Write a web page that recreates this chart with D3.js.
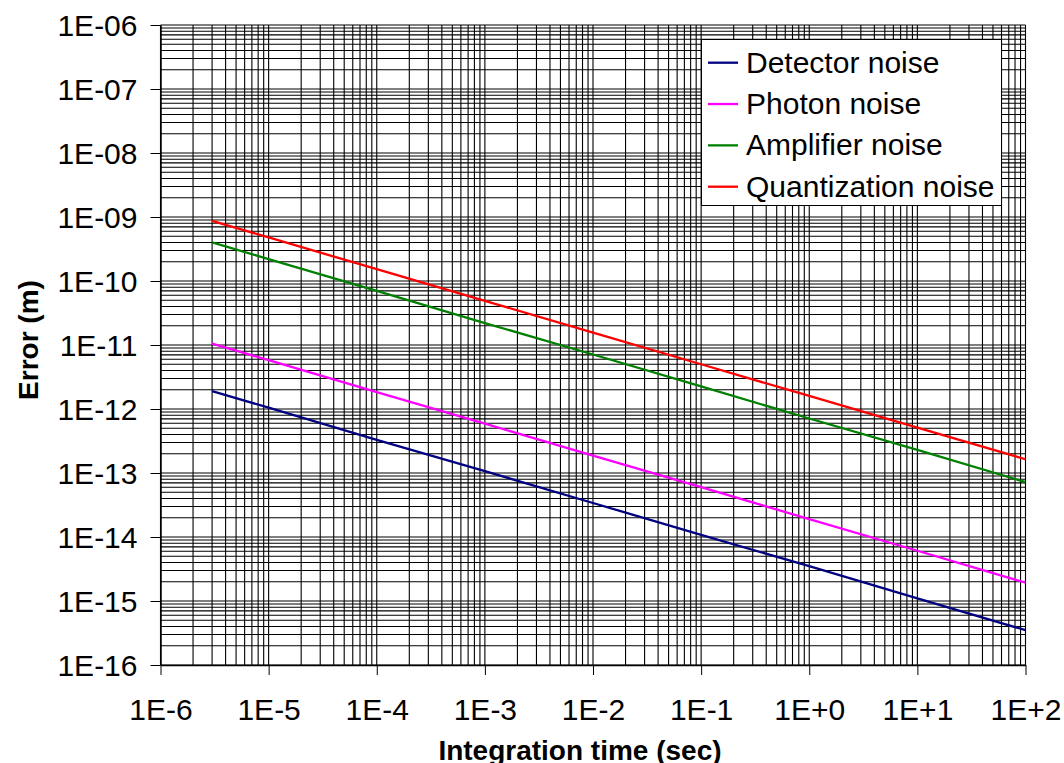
<!DOCTYPE html>
<html>
<head>
<meta charset="utf-8">
<script src="https://cdn.jsdelivr.net/npm/d3@7"></script>
<style>
  html, body { margin: 0; padding: 0; background: #fff; }
  svg { display: block; font-family: "Liberation Sans", Arial, sans-serif; }
</style>
</head>
<body>
<svg id="chart" width="1064" height="763"></svg>
<script>
// ---- data ----
const times = [3e-6, 1e-5, 1e-4, 1e-3, 1e-2, 1e-1, 1, 10, 100];
const detectorNoise     = [1.9e-12, 1.05e-12, 3.3e-13, 1.07e-13, 3.4e-14, 1.08e-14, 3.5e-15, 1.1e-15, 3.5e-16];
const photonNoise       = [1.05e-11, 5.8e-12, 1.84e-12, 5.9e-13, 1.87e-13, 6.0e-14, 1.9e-14, 6.1e-15, 1.93e-15];
const amplifierNoise    = [4.0e-10, 2.2e-10, 7.0e-11, 2.2e-11, 7.1e-12, 2.25e-12, 7.1e-13, 2.3e-13, 7.2e-14];
const quantizationNoise = [8.7e-10, 4.8e-10, 1.53e-10, 4.9e-11, 1.56e-11, 5.0e-12, 1.6e-12, 5.1e-13, 1.64e-13];

const seriesNames  = ["Detector noise", "Photon noise", "Amplifier noise", "Quantization noise"];
const seriesColors = ["#000080", "#ff00ff", "#008000", "#ff0000"];
const seriesValues = [detectorNoise, photonNoise, amplifierNoise, quantizationNoise];

const xTickValues = [1e-6, 1e-5, 1e-4, 1e-3, 1e-2, 1e-1, 1, 10, 100];
const xTickLabels = ["1E-6", "1E-5", "1E-4", "1E-3", "1E-2", "1E-1", "1E+0", "1E+1", "1E+2"];
const yTickValues = [1e-16, 1e-15, 1e-14, 1e-13, 1e-12, 1e-11, 1e-10, 1e-9, 1e-8, 1e-7, 1e-6];
const yTickLabels = ["1E-16", "1E-15", "1E-14", "1E-13", "1E-12", "1E-11", "1E-10", "1E-09", "1E-08", "1E-07", "1E-06"];

const xTitle = "Integration time (sec)";
const yTitle = "Error (m)";

// ---- layout ----
const plot = { left: 160.5, right: 1025.5, top: 25, bottom: 665 };
const svg = d3.select("#chart");

const x = d3.scaleLog().domain([1e-6, 1e2]).range([plot.left, plot.right]);
const y = d3.scaleLog().domain([1e-16, 1e-6]).range([plot.bottom, plot.top]);

function logGrid(decades) {
  const out = [];
  decades.forEach((d, i) => {
    if (i === decades.length - 1) { out.push(d); return; }
    for (let k = 1; k <= 9; k++) out.push(k * d);
  });
  return out;
}
const xGrid = logGrid(xTickValues);
const yGrid = logGrid(yTickValues);

// gridlines
const grid = svg.append("g").attr("stroke", "#000").attr("stroke-width", 1.1);
grid.selectAll("line.gx").data(xGrid).join("line")
  .attr("x1", d => x(d)).attr("x2", d => x(d))
  .attr("y1", plot.top).attr("y2", plot.bottom);
grid.selectAll("line.gy").data(yGrid).join("line")
  .attr("x1", plot.left).attr("x2", plot.right)
  .attr("y1", d => y(d)).attr("y2", d => y(d));

// axes
const yAxis = d3.axisLeft(y).tickValues(yTickValues).tickSize(10).tickSizeOuter(0)
  .tickFormat((d, i) => yTickLabels[i]);
const gy = svg.append("g").attr("transform", `translate(${plot.left},0)`).call(yAxis);
gy.select(".domain").attr("stroke", "#000").attr("stroke-width", 1.5);
gy.selectAll(".tick line").attr("stroke", "#000");
gy.selectAll(".tick text").attr("font-size", 30).attr("fill", "#000")
  .attr("x", -23).attr("dy", "0.36em").attr("font-family", "Liberation Sans, Arial, sans-serif");

const xAxis = d3.axisBottom(x).tickValues(xTickValues).tickSize(10).tickSizeOuter(0)
  .tickFormat((d, i) => xTickLabels[i]);
const gx = svg.append("g").attr("transform", `translate(0,${plot.bottom})`).call(xAxis);
gx.select(".domain").attr("stroke", "#000").attr("stroke-width", 1.5);
gx.selectAll(".tick line").attr("stroke", "#000");
gx.selectAll(".tick text").attr("font-size", 30).attr("fill", "#000")
  .attr("y", 55).attr("dy", null).attr("font-family", "Liberation Sans, Arial, sans-serif");

// series lines
const line = d3.line().x(d => x(d[0])).y(d => y(d[1]));
seriesValues.forEach((vals, i) => {
  svg.append("path")
    .datum(times.map((t, j) => [t, vals[j]]))
    .attr("fill", "none")
    .attr("stroke", seriesColors[i])
    .attr("stroke-width", 2.3)
    .attr("d", line);
});

// axis titles
svg.append("text")
  .attr("x", 580).attr("y", 760)
  .attr("text-anchor", "middle")
  .attr("font-size", 28).attr("font-weight", "bold")
  .text(xTitle);
svg.append("text")
  .attr("transform", "translate(38,340) rotate(-90)")
  .attr("text-anchor", "middle")
  .attr("font-size", 28).attr("font-weight", "bold")
  .text(yTitle);

// legend
const legend = svg.append("g");
legend.append("rect")
  .attr("x", 701.5).attr("y", 39.5).attr("width", 300).attr("height", 166)
  .attr("fill", "#fff").attr("stroke", "#000").attr("stroke-width", 1);
const legendRowY = d3.scalePoint().domain(seriesNames).range([62.7, 186.7]);
seriesNames.forEach((name, i) => {
  const ly = legendRowY(name);
  legend.append("line")
    .attr("x1", 708).attr("x2", 738).attr("y1", ly).attr("y2", ly)
    .attr("stroke", seriesColors[i]).attr("stroke-width", 2.3);
  legend.append("text")
    .attr("x", 746).attr("y", ly + 10)
    .attr("font-size", 30).attr("fill", "#000")
    .text(name);
});
</script>
</body>
</html>
